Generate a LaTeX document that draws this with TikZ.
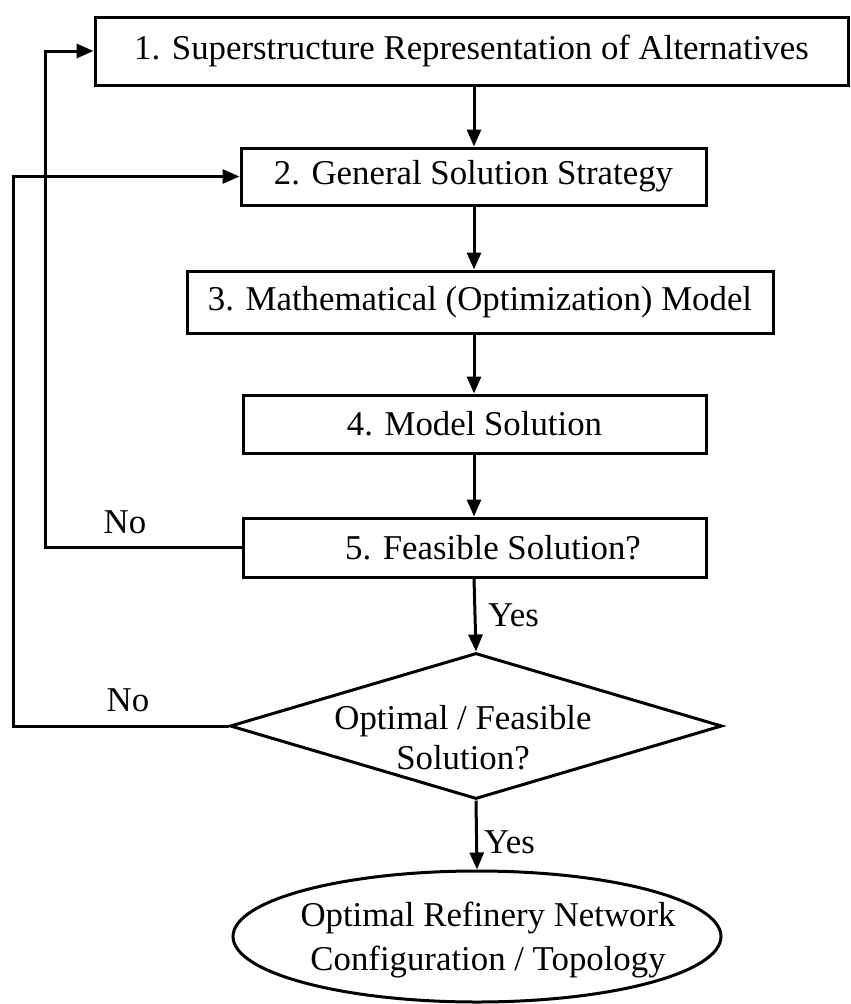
\documentclass[tikz,border=0pt]{standalone}
\usepackage{fontspec}
\setmainfont{Liberation Serif}
\usetikzlibrary{shapes.geometric,arrows.meta}

\begin{document}
\begin{tikzpicture}[x=1pt,y=-1pt,
  lw/.style={line width=3pt},
  txt/.style={font=\fontsize{34.8}{42}\selectfont, inner sep=0pt, align=center},
  stepbox/.style={lw, draw, rectangle, inner sep=0pt, txt},
  arr/.style={lw, -{Triangle[length=17pt,width=14pt]}}
]
% canvas
\fill[white] (0,0) rectangle (851,1004);
\useasboundingbox (0,0) rectangle (851,1004);

% process steps
\node[stepbox, minimum width=753pt, minimum height=68pt] (b1) at (471.5,51)
  {1. Superstructure Representation of Alternatives};
\node[stepbox, minimum width=465pt, minimum height=57pt] (b2) at (473.5,176.5)
  {2. General Solution Strategy};
\node[stepbox, minimum width=586pt, minimum height=62pt] (b3) at (480,302)
  {3. Mathematical (Optimization) Model};
\node[stepbox, minimum width=463pt, minimum height=58pt] (b4) at (474.5,424)
  {4. Model Solution};
\node[stepbox, minimum width=463pt, minimum height=59pt] (b5) at (474.5,547.5) {};
\node[txt] (t5) at (493,548) {5. Feasible Solution?};

% decision
\node[lw, draw, diamond, minimum width=492pt, minimum height=146pt, inner sep=0pt] (dec) at (476,726) {};
\node[txt, font=\fontsize{34.8}{40}\selectfont] (tdec) at (463,738) {Optimal / Feasible\\Solution?};

% result
\node[lw, draw, ellipse, minimum width=488pt, minimum height=131pt, inner sep=0pt] (res) at (477,936.5) {};
\node[txt, font=\fontsize{34.8}{44}\selectfont] (tres) at (488,940) {Optimal Refinery Network\\Configuration / Topology};

% main flow axis
\coordinate (ax) at (474,0);

\draw[arr] (b1.south -| ax) -- (b2.north -| ax);
\draw[arr] (b2.south -| ax) -- (b3.north -| ax);
\draw[arr] (b3.south -| ax) -- (b4.north -| ax);
\draw[arr] (b4.south -| ax) -- (b5.north -| ax);
\draw[arr] (b5.south -| ax) -- (dec.north);
\draw[arr] (dec.south) -- (res.north);

% feedback loops
\coordinate (l1) at (45,0);
\coordinate (l2) at (13,0);
\draw[arr] (b5.west) -- (b5.west -| l1) |- (b1.west);
\draw[arr] (dec.west) -- (dec.west -| l2) |- (b2.west);

% branch labels
\node[txt] (no1) at (125,522) {No};
\node[txt] (no2) at (128,700) {No};
\node[txt, anchor=west] (yes1) at (488,615) {Yes};
\node[txt, anchor=west] (yes2) at (484,842) {Yes};
\end{tikzpicture}
\end{document}
